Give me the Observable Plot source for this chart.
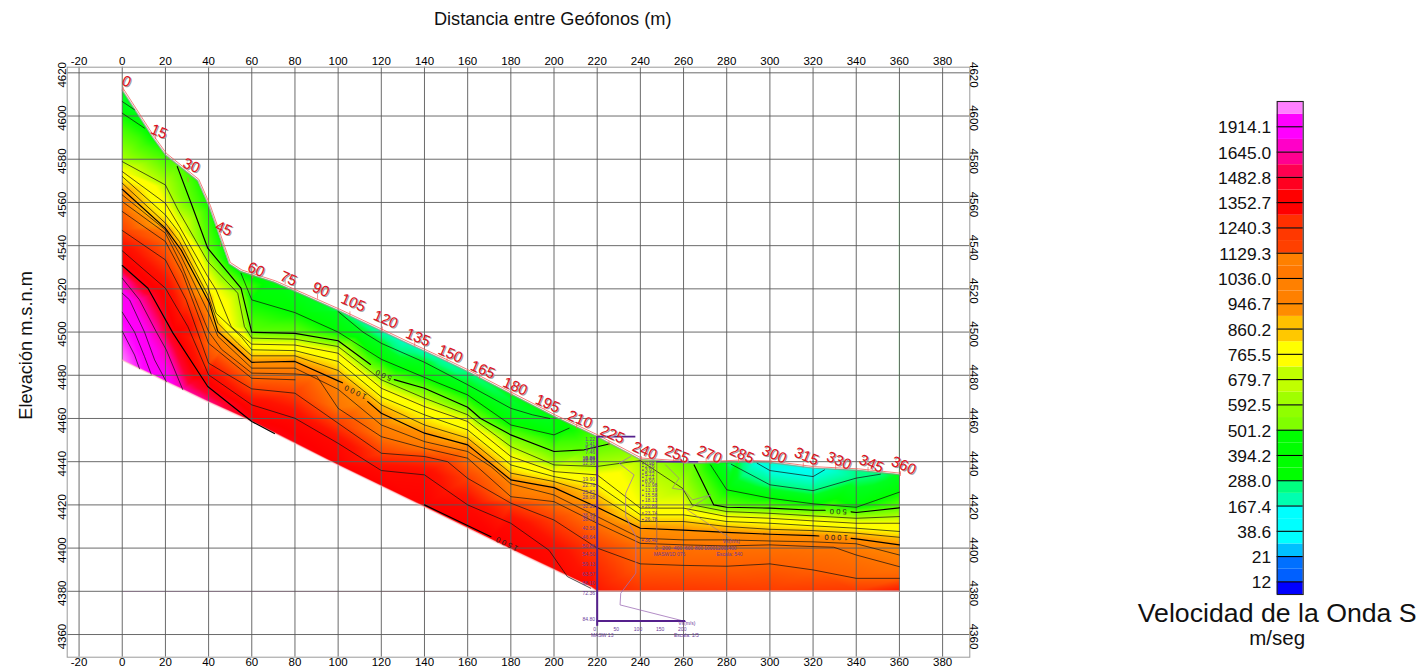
<!DOCTYPE html>
<html><head><meta charset="utf-8">
<script src="https://cdn.jsdelivr.net/npm/d3@7"></script>
<script src="https://cdn.jsdelivr.net/npm/@observablehq/plot@0.6"></script>
<style>
html,body{margin:0;padding:0;background:#fff;overflow:hidden}
#chart{position:relative;width:1421px;height:672px}
#chart svg{position:absolute;left:0;top:0}
.clabel{letter-spacing:2.2px}
</style></head><body><div id="chart"></div>
<script>
const xTicks=d3.range(-20,381,20), yTicks=d3.range(4360,4621,20);
// ground surface [x, elevation, velocity]
const surface=[[0,4612,300],[14.2,4590,400],[20,4582,450],[35,4570,430],[40.3,4558,420],[49.6,4531.5,400],[55,4528,390],[70.5,4523,350],[100,4510,260],[130,4495.8,140],[150,4486.5,180],[160,4481.7,230],[200,4461,380],[220,4451.6,480],[240,4441,620],[265,4439.2,500],[285,4440,280],[300,4439.6,130],[320,4437,50],[340.5,4436,220],[360,4434,300]];
const base=[[0,4487,2100],[8,4483,2000],[13.4,4480.5,1920],[20.4,4477,1850],[28,4473.4,1800],[40,4467.6,1680],[60,4458.6,1520],[100,4438.4,1480],[140,4419,1480],[180,4399.5,1480],[217,4382,1420],[220,4380,1340],[240,4380,1250],[300,4380,1230],[340,4380,1240],[360,4380,1350]];
// iso-velocity lines
const c100=[[294.1,4439.3],[300,4435.9],[320,4433.1],[325.3,4436.2]];
const c200=[[282.1,4438.8],[300,4429.3],[320,4426.6],[340,4432.4],[351.2,4434.2]];
const c280=[[100,4509.5],[111.5,4500],[120,4494.8],[140,4486],[160,4475.6],[180,4464.7],[190,4461.7],[198,4460]];
const c300left=[[0,4606.7],[5.7,4602.9]];
const c400left=[[0,4601.3],[10.3,4594.4]];
const c400=[[55,4527.2],[60,4514.9],[80,4509],[100,4500],[120,4487.4],[140,4479],[160,4470.9],[180,4457],[200,4452.4],[207,4455.5]];
const c400right=[[272.5,4438.5],[280,4427],[300,4423.1],[320,4420.5],[340,4418.9],[360,4425.9]];
const c500a=[[25.5,4576.6],[31.9,4559.6],[39.6,4538.8],[55,4520.3],[60,4499.9],[80,4499.4],[100,4496],[115,4485]];
const c500b=[[126,4478],[140,4474],[160,4465.2],[166,4460],[180,4452.4],[200,4444.7],[214,4445.5],[225.5,4448.2]];
const c500c=[[264.9,4438.5],[274,4420],[280,4418.9],[300,4418.5],[320,4417.5],[325.6,4417.5]];
const c500d=[[337.6,4416.8],[340,4416.5],[360,4418.6]];
const c600=[[0,4578.9],[20,4568.1],[25.8,4556.6],[39.6,4532.6],[53.5,4518],[56.6,4502.5],[60,4497.2],[80,4496.7],[100,4493.3],[120,4477.9],[140,4469.4],[160,4461.7],[180,4447],[200,4438.5],[220,4437.8],[240,4440.5],[259.5,4427.7],[264,4420],[280,4416.9],[300,4416.1],[320,4414.9],[340,4413.8],[360,4414.6]];
const c700=[[0,4574.3],[20,4559.6],[26.5,4548.8],[39.6,4525.7],[43.5,4519.5],[50.5,4502.5],[60,4494.4],[80,4494],[100,4490.2],[120,4474],[140,4465.5],[160,4458.6],[180,4442.4],[200,4435.4],[220,4433.9],[240,4418.5],[260,4418.5],[280,4414.6],[300,4413.8],[320,4412.6],[340,4411.5],[360,4411.5]];
const c800=[[0,4572],[20,4554.2],[26.5,4545.8],[39.6,4521],[43.5,4508.7],[55,4497.9],[60,4491.8],[80,4491.4],[100,4486.4],[120,4470],[140,4461.7],[160,4454.7],[180,4438.5],[200,4433.1],[220,4429.3],[240,4415.4],[260,4415.4],[280,4412.3],[300,4411.5],[320,4410.3],[340,4409.2],[360,4407.7]];
const c900=[[0,4568.9],[20,4550.4],[26.5,4541.9],[39.6,4517.2],[44.3,4504.1],[53.5,4494.8],[60,4489],[80,4489],[100,4482.2],[120,4466.3],[140,4457],[160,4450.9],[180,4434.7],[200,4430.8],[220,4424.6],[240,4412.3],[260,4412.3],[280,4410],[300,4408.7],[320,4408.1],[340,4406.9],[360,4405]];
const c1000a=[[0,4566.1],[20,4548],[27.3,4538],[40.4,4513.3],[44.3,4500.2],[52,4493.3],[60,4486],[80,4486.4],[100,4477.4],[102,4476.5]];
const c1000b=[[113.7,4467.8],[120,4462.4],[140,4453.2],[160,4447.8],[180,4431.6],[200,4428],[220,4418.9],[240,4409.2],[260,4408.3],[280,4407.3],[300,4406.4],[320,4405.8],[322.7,4405.6]];
const c1000c=[[337.6,4404.5],[340,4404.3],[360,4401.5]];
const c1100=[[0,4563.5],[20,4547.3],[27.3,4535],[40,4508.7],[44.3,4498],[60,4483.3],[80,4483.3],[100,4473.5],[120,4457],[140,4449.3],[160,4444.7],[170.8,4437.7],[180,4429.7],[200,4424.6],[220,4414.6],[240,4404.6],[260,4403.8],[280,4403.8],[300,4403.3],[320,4402.9],[340,4402],[360,4396.8]];
const c1200=[[0,4560.4],[20,4545.8],[27.5,4531],[40,4500.2],[46,4492],[60,4481],[80,4480.6],[90,4479.7],[100,4464.7],[120,4451.6],[140,4446.2],[160,4441.6],[180,4423.8],[200,4421.5],[220,4411.5],[240,4402.2],[260,4401.5],[280,4401],[300,4401.5],[320,4400.7],[329.6,4400.4],[340,4396.8],[360,4391.4]];
const c1250=[[0,4555.8],[20,4541.9],[28,4527],[40,4494.8],[60,4478.6],[80,4477.9]];
const c1300a=[[0,4547],[20,4533.4],[29.6,4514.9],[40,4485.6],[60,4473.7],[80,4471.7],[100,4457.8],[120,4443.9],[140,4442.4],[150.7,4440],[160,4432.3],[180,4420.8],[200,4413],[220,4400]];
const c1300b=[[220,4400],[240,4392.7],[260,4392],[280,4391.6],[300,4392.7],[320,4389.9],[340,4386],[360,4386]];
const c1400=[[0,4537.6],[20,4520.3],[30.4,4502.5],[40,4480.2],[60,4466.3],[80,4460.1],[100,4448.5],[120,4435.9],[140,4433.9],[160,4420],[180,4411.5],[197.7,4399],[206.2,4386.8],[217,4381.4]];
const c1500=[[0,4530.8],[11.9,4520.3],[23.5,4499.5],[39.6,4474.8],[60,4458.6],[70.5,4453]];
const c1500b=[[140,4420],[170.8,4405.3]];
const c1650=[[0,4524.9],[8,4514.9],[15.7,4500.2],[20.4,4491.8],[28,4473.4]];
const c1720=[[0,4518],[3.4,4514.9],[10.3,4500],[15,4487.1],[20.4,4477]];
const c1800=[[0,4509.2],[5.7,4500],[10.3,4488.7],[13.4,4480.5]];
const c1900=[[0,4500.4],[5.7,4489.4],[8,4483]];
const thin=[[c100,90],[c200,230],[c280,300],[c300left,300],[c400left,400],[c400,400],[c400right,400],[c600,600],[c700,700],[c800,800],[c900,900],[c1100,1040],[c1200,1080],[c1250,1120],[c1300a,1220],[c1300b,1130],[c1400,1420],[c1650,1720],[c1720,1820],[c1800,1900],[c1900,1950]];
const bold=[[c500a,500],[c500b,500],[c500c,500],[c500d,500],[c1000a,1000],[c1000b,1000],[c1000c,1000],[c1500,1520],[c1500b,1480]];
// colour table of the velocity field
const velStops=[0,12,21,38.6,100,167,230,288,400,460,520,600,660,700,800,900,1000,1070,1130,1240,1350,1480,1600,1700,1800,1914,2100];
const velColors=["#0000ff","#0060ff","#00c0ff","#00ffff","#00ffe0","#00ffb0","#00ff80","#00ff20","#00ff00","#40ff00","#70ff00","#b0ff00","#e0ff00","#ffff00","#ffff00","#ffc800","#ff9000","#ff7800","#ff6000","#ff3800","#ff1400","#ff0000","#ff0030","#ff00a0","#ff00f0","#ff00ff","#ff80ff"];
// geophone stations
const stations=d3.range(0,361,15);
const stationLabelElev=[4616,4592.8,4577.1,4547.9,4528.9,4524.8,4519.7,4513.6,4505.8,4497.5,4490,4482.6,4474.8,4466.9,4459.5,4452.6,4445.1,4443.3,4443.3,4443.3,4443.3,4442.4,4440.5,4439.1,4438.2];
const stationElev=[4612,4590,4570,4540,4525.5,4522.8,4516,4508,4501,4494,4487,4479,4471,4465,4456,4448,4441,4440.5,4440,4440,4439.5,4438,4437,4436,4434];
// borehole logs
const depthsA=[1.22,3.41,5.46,7.46,9.89,10.04,10.69,12.36,19.9,22.76,25.82,28.08,32.28,36.43,38.26,42.56,46.64,50.88,54.5,59.13,63.57,68.1,72.36,84.8];
const depthsB=[0.98,2.26,3.91,5.72,7.21,8.9,10.98,13.19,15.58,18.13,20.89,23.74,26.78,36.4];
const logA=[[235.5,4442.4],[230.1,4439.3],[237.1,4433.9],[233.2,4425.4],[233.2,4414.6],[237.9,4405.3],[237.9,4388.4],[230.9,4379.1],[230.6,4373.7],[261,4366]];
const logB=[[251.7,4438.5],[257.9,4432.3],[254.8,4427.7],[260.2,4426.9],[264.1,4422.3],[272.6,4424.6],[261.8,4417.7],[282.6,4403.8]];
const axisA=[["0",218.8],["50",228.8],["100",238.9],["150",249.2],["200",259.4]];
const axisB=[["0",247.4],["200",252],["400",257.4],["600",262.5],["800",267.1],["1000",272],["1200",277.1],["1400",282]];
const logNotes=[["Vs(m/s)",261.5,4365.2],["MASW 13",222.3,4359.5],["Escala: 1/5",261.3,4359.8],["MASW1D 076",253.5,4397.3],["Vs(m/s)",282.1,4403],["Escala: 540",281.3,4397.3]];
// contour labels
const contourLabels=[["500",120.6,4480.2,204],["1000",107.6,4472.4,206],["1500",177.7,4402.2,206],["500",331.2,4417,181],["1000",330.2,4405,182]];
// legend
const legendLabels=["12","21","38.6","167.4","288.0","394.2","501.2","592.5","679.7","765.5","860.2","946.7","1036.0","1129.3","1240.3","1352.7","1482.8","1645.0","1914.1"];
const legendColors=["#0000ff","#0060ff","#0070ff","#00c0ff","#00ffff","#00ffff","#00ffff","#00ffb0","#00ff80","#00ff00","#00ff00","#00ff00","#00ff00","#80ff00","#90ff00","#a0ff00","#c0ff00","#c0ff00","#ffff00","#ffff00","#ffc800","#ffc000","#ff8c00","#ff8000","#ff8000","#ff7800","#ff8000","#ff4000","#ff3800","#ff3000","#ff0000","#ff0000","#ff0020","#ff0050","#ff0090","#ff00c8","#ff00ff","#ff00ff","#ff80ff"];

const F="Liberation Sans, Arial, sans-serif";
const P=a=>({x:a[0],y:a[1]});
const lineRows=list=>list.flatMap(([pts],i)=>pts.map(p=>({x:p[0],y:p[1],id:i})));
const rasterRows=[...surface.map(s=>({x:s[0],y:s[1],v:s[2]})),...base.map(s=>({x:s[0],y:s[1],v:s[2]})),
  ...[...thin,...bold].flatMap(([pts,v])=>pts.map(p=>({x:p[0],y:p[1],v})))];
const surfaceRows=surface.map(P), baseRows=base.map(P);
const stationRows=stations.map((s,i)=>({s:String(s),x:s,y:stationLabelElev[i],e:stationElev[i]}));
const purple="#55208c", purpleText="#6a3a9a";
const topA=4451.6, topB=4440;

const main=Plot.plot({
  width:1421,height:672,marginLeft:66.7,marginRight:451.7,marginTop:66.7,marginBottom:15.3,
  style:{fontFamily:F,background:"transparent",overflow:"visible"},
  x:{domain:[-25.5,392.6]},y:{domain:[4349.5,4622.6]},
  color:{type:"linear",domain:velStops,range:velColors,clamp:true},
  marks:[
    Plot.raster(rasterRows,{x:"x",y:"y",fill:"v",interpolate:"barycentric",x1:0,x2:360,y1:4380,y2:4612,pixelSize:1}),
    Plot.areaY(surfaceRows,{x:"x",y1:"y",y2:()=>4612.6,fill:"white"}),
    Plot.areaY(baseRows,{x:"x",y1:"y",y2:()=>4379.8,fill:"white"}),
    Plot.ruleX(xTicks,{stroke:"#5a5a5a",strokeWidth:0.9}),
    Plot.ruleY(yTicks,{stroke:"#5a5a5a",strokeWidth:0.9}),
    Plot.frame({stroke:"#9a9a9a",strokeWidth:1}),
    Plot.line(baseRows,{x:"x",y:"y",stroke:"#ffb0b0",strokeWidth:1.6,strokeOpacity:0.5}),
    Plot.line(surfaceRows,{x:"x",y:"y",stroke:"#8a9a8a",strokeWidth:1.4,strokeOpacity:0.7}),
    Plot.line(lineRows(thin),{x:"x",y:"y",z:"id",stroke:"#101010",strokeWidth:0.7,curve:"linear"}),
    Plot.line(lineRows(bold),{x:"x",y:"y",z:"id",stroke:"#000",strokeWidth:1.15}),
    Plot.text(contourLabels,{x:d=>d[1],y:d=>d[2],text:d=>d[0],rotate:d=>d[3],fontSize:7.5,fill:"#222",className:"clabel"}),
    Plot.line(surfaceRows,{x:"x",y:"y",dx:1,dy:-1.5,stroke:"#f0605a",strokeWidth:0.8}),
    Plot.link(stationRows,{x1:"x",x2:"x",y1:d=>d.e-0.6,y2:d=>d.e+1.6,stroke:"#f0605a",strokeWidth:0.7,dx:1}),
    Plot.line(logA.map(P),{x:"x",y:"y",stroke:"#a070b8",strokeWidth:0.8}),
    Plot.line(logB.map(P),{x:"x",y:"y",stroke:"#a07a90",strokeWidth:0.7}),
    Plot.ruleX([247.6],{y1:topB,y2:4400.5,stroke:"#7a5a7a",strokeWidth:0.7}),
    Plot.ruleX([220],{y1:topA,y2:4363.8,stroke:purple,strokeWidth:2}),
    Plot.ruleY([topA],{x1:220,x2:237.9,stroke:purple,strokeWidth:1.8}),
    Plot.ruleY([topA-85.3],{x1:220,x2:261,stroke:purple,strokeWidth:2}),
    Plot.ruleY([topB],{x1:247.6,x2:267,stroke:purple,strokeWidth:1.5}),
    Plot.text(depthsA,{x:()=>219,y:d=>topA-d,text:d=>d.toFixed(2),fontSize:5,textAnchor:"end",fill:purpleText}),
    Plot.dot(depthsB,{x:()=>241.2,y:d=>topB-d,r:0.8,fill:purple}),
    Plot.text(depthsB,{x:()=>242,y:d=>topB-d,text:d=>d.toFixed(2),fontSize:5,textAnchor:"start",fill:purpleText}),
    Plot.text(axisA,{x:d=>d[1],y:()=>4362.6,text:d=>d[0],fontSize:5,fill:purpleText}),
    Plot.text(axisB,{x:d=>d[1],y:()=>4399.9,text:d=>d[0],fontSize:5,fill:purpleText}),
    Plot.text(logNotes,{x:d=>d[1],y:d=>d[2],text:d=>d[0],fontSize:5,fill:purpleText}),
    Plot.text(stationRows,{x:d=>d.x+2,y:"y",text:"s",rotate:23,fontSize:15,fill:"#a0a0a0",dx:1,dy:1}),
    Plot.text(stationRows,{x:d=>d.x+2,y:"y",text:"s",rotate:23,fontSize:15,fill:"#e0101c"}),
    Plot.axisX({anchor:"top",ticks:xTicks,tickSize:0,tickPadding:2,label:null,fontSize:11.5,tickFormat:String}),
    Plot.axisX({anchor:"bottom",ticks:xTicks,tickSize:0,tickPadding:1,label:null,fontSize:11.5,tickFormat:String}),
    Plot.axisY({anchor:"left",ticks:yTicks,tickSize:0,tickPadding:1,tickRotate:-90,label:null,fontSize:11.5,tickFormat:String,dy:2}),
    Plot.axisY({anchor:"right",ticks:yTicks,tickSize:0,tickPadding:1,tickRotate:90,label:null,fontSize:11.5,tickFormat:String,dx:7,dy:2}),
    Plot.text(["Distancia entre Geófonos (m)"],{x:()=>199.4,y:()=>4644.7,text:d=>d,fontSize:18.2,fill:"#111"}),
    Plot.text(["Elevación m.s.n.m"],{x:()=>-44.5,y:()=>4493.8,text:d=>d,fontSize:18.2,rotate:-90,fill:"#111"})
  ]
});

const bands=legendColors.map((c,i)=>({i,c}));
const ruleAt=legendLabels.map((_,i)=>1+2*i);
const legend=Plot.plot({
  width:1421,height:672,marginLeft:1276.7,marginRight:118.3,marginTop:101,marginBottom:78,
  style:{fontFamily:F,background:"transparent",overflow:"visible"},
  x:{domain:[0,1],axis:null},y:{domain:[0,39],axis:null},
  marks:[
    Plot.rect(bands,{x1:()=>0,x2:()=>1,y1:"i",y2:d=>d.i+1,fill:"c",inset:0}),
    Plot.ruleY(ruleAt,{stroke:"#000",strokeWidth:1.1}),
    Plot.frame({stroke:"#222",strokeWidth:1.1}),
    Plot.axisY({anchor:"left",ticks:ruleAt,tickSize:0,tickPadding:6,label:null,fontSize:17.4,dy:1,tickFormat:d=>legendLabels[(d-1)/2],fill:"#111"}),
    Plot.text(["Velocidad de la Onda S"],{x:()=>0,y:()=>-1.5,text:d=>d,fontSize:26.7,fill:"#111",dy:-0.5}),
    Plot.text(["m/seg"],{x:()=>0,y:()=>-3.5,text:d=>d,fontSize:20.5,fill:"#111"})
  ]
});
const root=document.getElementById("chart");
root.append(main,legend);
</script></body></html>
